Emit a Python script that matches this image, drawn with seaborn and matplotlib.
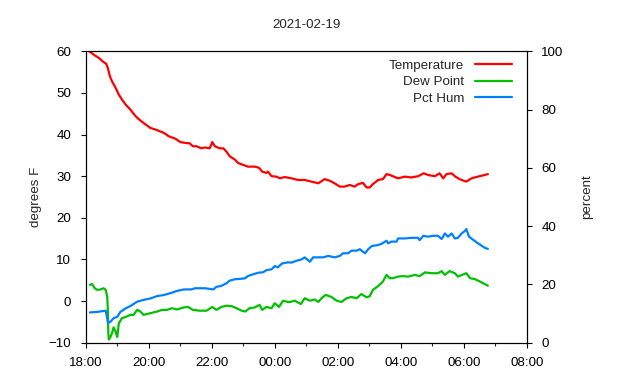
import pandas as pd
import matplotlib
matplotlib.use("Agg")
import matplotlib.pyplot as plt
import matplotlib.dates as mdates
from matplotlib.lines import Line2D
import seaborn as sns

# === Data (overnight 2021-02-18 -> 2021-02-19) ===
temp_times = ["18:06", "18:08", "18:15", "18:25", "18:34", "18:39", "18:42", "18:46", "18:50", "18:57",
              "19:03", "19:09", "19:16", "19:25", "19:35", "19:41", "19:50", "20:03", "20:13", "20:29",
              "20:38", "20:51", "21:00", "21:09", "21:18", "21:24", "21:31", "21:40", "21:47", "21:56",
              "22:01", "22:06", "22:15", "22:22", "22:28", "22:34", "22:44", "22:50", "23:00", "23:09",
              "23:22", "23:28", "23:31", "23:36", "23:44", "23:47", "23:54", "00:03", "00:10", "00:19",
              "00:32", "00:44", "00:57", "01:10", "01:23", "01:35", "01:45", "01:54", "02:04", "02:13",
              "02:23", "02:32", "02:39", "02:48", "02:55", "03:01", "03:07", "03:17", "03:26", "03:33",
              "03:39", "03:45", "03:55", "04:08", "04:20", "04:33", "04:44", "04:52", "05:05", "05:14",
              "05:21", "05:27", "05:37", "05:44", "05:52", "06:05", "06:15", "06:27", "06:40", "06:46"]
temp_vals = [60.0, 59.9, 59.2, 58.4, 57.4, 57.0, 56.0, 54.0, 52.8, 51.2,
             49.6, 48.4, 47.2, 46.0, 44.4, 43.7, 42.8, 41.6, 41.2, 40.4,
             39.6, 39.0, 38.2, 38.0, 37.9, 37.2, 37.2, 36.7, 36.9, 36.7,
             38.2, 37.2, 36.7, 36.7, 35.9, 34.8, 34.0, 33.2, 32.7, 32.3,
             32.3, 32.1, 31.9, 31.1, 30.8, 31.1, 30.0, 29.9, 29.5, 29.8,
             29.5, 29.1, 29.1, 28.7, 28.3, 29.3, 28.9, 28.3, 27.5, 27.5,
             27.9, 27.5, 28.1, 28.4, 27.3, 27.3, 28.1, 29.1, 29.3, 30.5,
             30.3, 30.0, 29.5, 29.9, 29.7, 30.0, 30.7, 30.3, 30.0, 30.7,
             29.5, 30.5, 30.7, 29.9, 29.3, 28.7, 29.5, 29.9, 30.3, 30.5]

dew_times = ["18:08", "18:12", "18:17", "18:22", "18:28", "18:34", "18:38", "18:41", "18:42", "18:43",
             "18:44", "18:47", "18:50", "18:53", "18:57", "19:00", "19:03", "19:09", "19:16", "19:25",
             "19:31", "19:38", "19:44", "19:50", "20:03", "20:16", "20:25", "20:35", "20:44", "20:54",
             "21:07", "21:15", "21:24", "21:37", "21:50", "22:01", "22:09", "22:18", "22:28", "22:38",
             "22:47", "22:57", "23:04", "23:12", "23:22", "23:31", "23:36", "23:44", "23:54", "00:00",
             "00:08", "00:16", "00:25", "00:29", "00:38", "00:50", "00:57", "01:07", "01:16", "01:23",
             "01:29", "01:37", "01:48", "01:58", "02:07", "02:17", "02:26", "02:36", "02:45", "02:55",
             "03:01", "03:07", "03:17", "03:26", "03:33", "03:39", "03:45", "03:55", "04:04", "04:14",
             "04:27", "04:36", "04:46", "04:59", "05:11", "05:18", "05:24", "05:33", "05:43", "05:49",
             "05:59", "06:05", "06:12", "06:21", "06:31", "06:37", "06:46"]
dew_vals = [3.9, 4.1, 3.1, 2.7, 2.8, 3.1, 2.7, 1.0, -2.1, -7.7,
            -9.2, -8.6, -7.7, -6.3, -7.4, -8.6, -5.3, -4.1, -3.8, -3.3,
            -3.3, -2.1, -2.5, -3.3, -2.9, -2.5, -2.1, -2.1, -1.7, -2.0,
            -1.5, -1.4, -2.1, -2.3, -2.3, -1.4, -2.1, -1.4, -1.1, -1.2,
            -1.7, -2.3, -2.5, -1.7, -1.5, -0.9, -2.1, -1.4, -1.7, -0.5,
            -1.4, 0.1, -0.2, -0.2, 0.1, -0.7, 0.7, 0.1, 0.4, -0.2,
            0.7, 1.5, 1.0, 0.1, -0.2, 0.7, 1.0, 0.7, 1.7, 0.9,
            1.2, 2.7, 3.6, 4.7, 6.3, 5.5, 5.5, 5.9, 6.0, 5.9,
            6.3, 6.0, 6.9, 6.7, 6.7, 7.2, 6.3, 7.2, 6.7, 5.9,
            6.4, 6.7, 5.5, 5.3, 4.7, 4.3, 3.7]

hum_times = ["18:08", "18:22", "18:38", "18:41", "18:42", "18:47", "18:53", "19:00", "19:06", "19:16",
             "19:25", "19:38", "19:50", "20:03", "20:16", "20:29", "20:41", "20:54", "21:07", "21:21",
             "21:28", "21:47", "22:03", "22:09", "22:18", "22:28", "22:34", "22:44", "22:53", "23:03",
             "23:09", "23:19", "23:28", "23:38", "23:44", "23:54", "00:00", "00:06", "00:14", "00:25",
             "00:32", "00:41", "00:51", "00:57", "01:07", "01:13", "01:23", "01:32", "01:42", "01:54",
             "02:04", "02:10", "02:20", "02:26", "02:36", "02:42", "02:52", "02:58", "03:05", "03:16",
             "03:23", "03:33", "03:36", "03:42", "03:52", "03:55", "04:08", "04:20", "04:33", "04:36",
             "04:43", "04:52", "05:02", "05:11", "05:18", "05:24", "05:30", "05:37", "05:43", "05:49",
             "05:56", "06:02", "06:05", "06:10", "06:16", "06:24", "06:34", "06:40", "06:46"]
hum_vals = [10.4, 10.6, 11.0, 8.4, 6.9, 7.2, 8.4, 8.9, 10.6, 11.8,
            12.6, 14.1, 14.7, 15.2, 16.0, 16.4, 17.0, 17.8, 18.3, 18.3,
            18.7, 18.7, 18.3, 19.2, 19.5, 20.4, 21.3, 21.8, 21.9, 22.1,
            22.9, 23.5, 24.0, 24.2, 24.9, 25.2, 26.3, 25.9, 27.2, 27.6,
            27.5, 28.1, 28.6, 29.3, 27.8, 29.3, 29.3, 29.3, 29.8, 29.3,
            29.8, 30.7, 30.7, 31.6, 31.6, 32.1, 30.7, 32.1, 33.2, 33.5,
            33.9, 35.0, 34.1, 34.7, 34.7, 35.8, 35.8, 36.0, 36.0, 35.2,
            36.7, 36.4, 36.7, 36.7, 35.6, 37.5, 36.4, 37.5, 35.8, 36.0,
            37.5, 38.3, 39.0, 36.4, 35.6, 34.5, 33.3, 32.6, 32.2]


def to_datetime(times):
    # evening readings belong to the 18th, after midnight to the 19th
    out = []
    for t in times:
        day = "2021-02-18" if int(t[:2]) >= 12 else "2021-02-19"
        out.append(pd.Timestamp(f"{day} {t}"))
    return out


df_temp = pd.DataFrame({"time": to_datetime(temp_times), "value": temp_vals})
df_dew = pd.DataFrame({"time": to_datetime(dew_times), "value": dew_vals})
df_hum = pd.DataFrame({"time": to_datetime(hum_times), "value": hum_vals})

# === Plot ===
sns.set_style("ticks")
plt.rcParams["font.family"] = ["Liberation Sans", "DejaVu Sans"]
fs = 9.6
plt.rcParams["font.size"] = fs

red, green, blue = "#ff0000", "#00c000", "#0080ff"

fig = plt.figure(figsize=(6.4, 3.8), dpi=100)
ax = fig.add_axes([0.134, 0.098, 0.689, 0.767])
ax2 = ax.twinx()

sns.lineplot(data=df_temp, x="time", y="value", ax=ax, color=red, lw=1.6)
sns.lineplot(data=df_dew, x="time", y="value", ax=ax, color=green, lw=1.6)
sns.lineplot(data=df_hum, x="time", y="value", ax=ax2, color=blue, lw=1.6)

ax.set_xlim(pd.Timestamp("2021-02-18 18:00"), pd.Timestamp("2021-02-19 08:00"))
ax.set_ylim(-10, 60)
ax2.set_ylim(0, 100)
ax.set_yticks(range(-10, 61, 10))
ax2.set_yticks(range(0, 101, 20))

ax.xaxis.set_major_locator(mdates.HourLocator(interval=2))
ax.xaxis.set_minor_locator(mdates.HourLocator(interval=1))
ax.xaxis.set_major_formatter(mdates.DateFormatter("%H:%M"))

ax.set_xlabel("")
ax.set_ylabel("degrees F", labelpad=5, fontsize=fs)
ax2.set_ylabel("percent", labelpad=13, fontsize=fs)
ax.set_title("2021-02-19", pad=17, fontsize=fs)

for a in (ax, ax2):
    a.tick_params(axis="both", which="major", length=3.5, width=0.8, pad=7,
                  colors="black", labelsize=fs)
    a.tick_params(axis="both", which="minor", length=2, width=0.8)
    for s in a.spines.values():
        s.set_color("black")
        s.set_linewidth(0.8)

handles = [Line2D([], [], color=red, lw=1.6),
           Line2D([], [], color=green, lw=1.6),
           Line2D([], [], color=blue, lw=1.6)]
ax2.legend(handles, ["Temperature", "Dew Point", "Pct Hum"], loc="upper right",
           frameon=False, markerfirst=False, handlelength=2.75, labelspacing=0.3,
           borderaxespad=0.4, bbox_to_anchor=(0.99, 1.008), fontsize=fs)

fig.savefig("out.png", dpi=100)
